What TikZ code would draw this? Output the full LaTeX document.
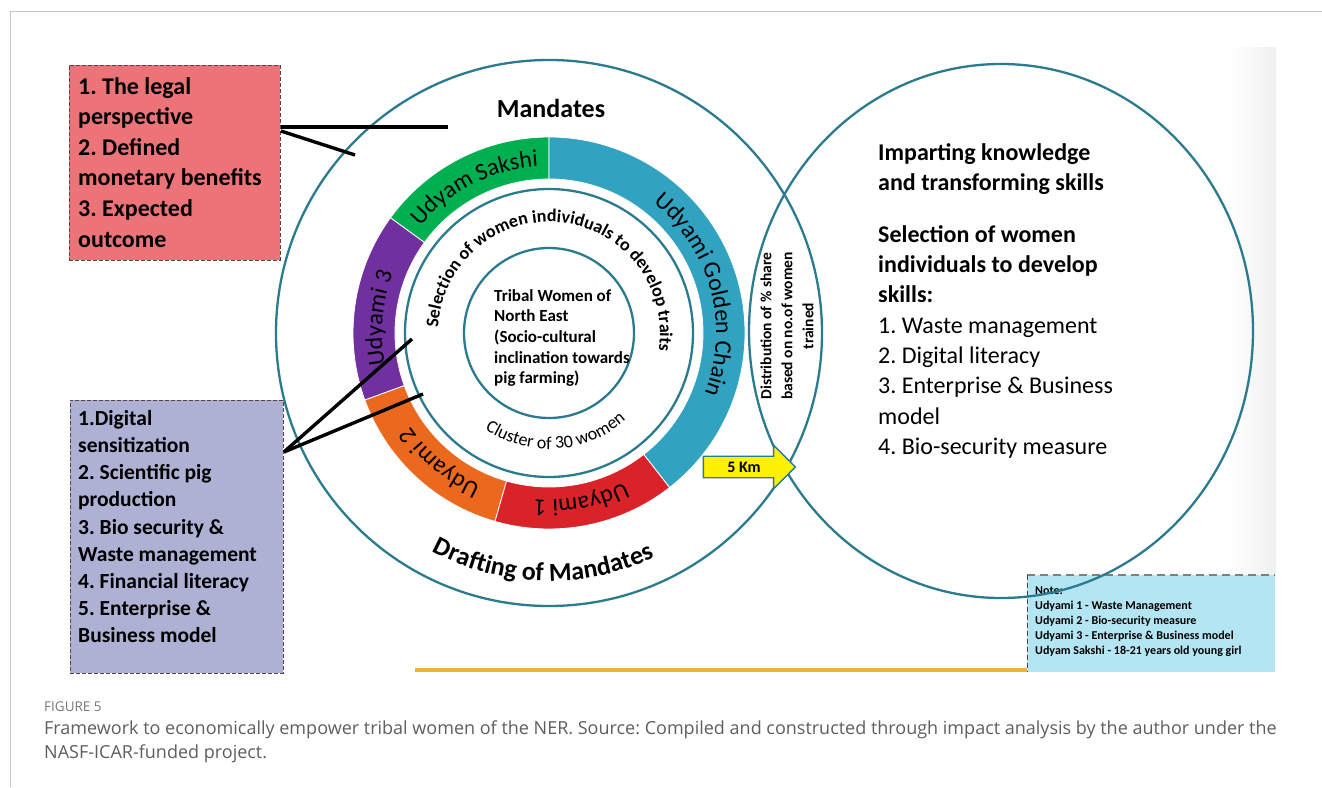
\documentclass[tikz,border=0pt]{standalone}
\usepackage{fontspec}
\setmainfont{Carlito}
\newfontfamily\capfont{Open Sans}
\usepackage{tikz}
\usetikzlibrary{shapes.arrows}
\usetikzlibrary{decorations.text}
\usetikzlibrary{positioning}
\frenchspacing

\newcommand{\fsz}[2]{\fontsize{#1}{#2}\selectfont}

\definecolor{rimteal}{HTML}{2A7B8E}
\definecolor{sakshigreen}{HTML}{00B050}
\definecolor{chainblue}{HTML}{31A3C1}
\definecolor{udythree}{HTML}{7030A0}
\definecolor{udytwo}{HTML}{EA691E}
\definecolor{udyone}{HTML}{DA2229}
\definecolor{legalpink}{HTML}{EC7479}
\definecolor{skilllilac}{HTML}{AEB1D4}
\definecolor{noteblue}{HTML}{B4E5F2}
\definecolor{dashbrown}{HTML}{5A4146}
\definecolor{goldbar}{HTML}{F0B03A}
\definecolor{capgray}{HTML}{5E5E5E}
\definecolor{framegray}{HTML}{C8C8C8}

\tikzset{
    rim/.style={draw=rimteal, line width=2.3pt},
    segline/.style={draw=white, line width=0.8pt},
    dashbox/.style={draw=dashbrown, dash pattern=on 4pt off 2pt, line width=0.9pt,
        anchor=north west, inner sep=0pt},
    boxtext/.style={anchor=north west, align=left, inner sep=0pt},
    tie/.style={draw=black, line width=3.4pt},
    ringtext/.style 2 args={decorate,
        decoration={text along path, text align=center, text={|#1|#2}}},
    caption/.style={anchor=base west, inner sep=0pt, text=capgray, font=\capfont\fsz{18}{24}},
    kmarrow/.style={single arrow, draw=rimteal, fill=yellow, line width=1.4pt,
        minimum height=92pt, inner xsep=2pt, inner ysep=4.8pt,
        single arrow head extend=11pt, font=\bfseries\fsz{16}{16}},
}

\begin{document}
\begin{tikzpicture}[x=1pt, y=1pt]
	\useasboundingbox (0,0) rectangle (1322,-787);
	\shade[left color=white, right color=black!6] (1228,-47) rectangle (1276,-575);
	\draw[framegray, line width=1pt] (10,-787) -- (10,-11) -- (1322,-11);

	% side boxes
	\node[dashbox, fill=legalpink, minimum width=211pt, minimum height=195pt] (legal) at (69,-65) {};
	\node[boxtext, font=\bfseries\fsz{24}{30.6}] (legalText) at (78,-77)
		{1. The legal\\perspective\\2. Defined\\monetary benefits\\3. Expected\\outcome};
	\node[dashbox, fill=skilllilac, minimum width=213pt, minimum height=273pt] (skills) at (70,-400) {};
	\node[boxtext, font=\bfseries\fsz{21.5}{27.2}] (skillsText) at (78,-410)
		{1.Digital\\sensitization\\2. Scientific pig\\production\\3. Bio security \&\\Waste management\\4. Financial literacy\\5. Enterprise \&\\Business model};

	% note and bar
	\node[anchor=north west, fill=noteblue, minimum width=248pt, minimum height=97pt, inner sep=0pt] (note) at (1027,-575) {};
	\draw[gray, dash pattern=on 8pt off 5pt, line width=1.2pt] (note.north west) -- (note.north east);
	\draw[dashbrown, dash pattern=on 5pt off 3pt, line width=1pt] (note.north west) -- (note.south west);
	\node[boxtext, font=\bfseries\fsz{12}{15}] (noteText) at (1035,-587)
		{Note:\\Udyami 1 - Waste Management\\Udyami 2 - Bio-security measure\\Udyami 3 - Enterprise \& Business model\\Udyam Sakshi - 18-21 years old young girl};
	\coordinate (barStart) at (415,-670);
	\draw[goldbar, line width=3.5pt] (barStart) -- (barStart -| note.west);

	% circles
	\coordinate (hub) at (549,-333);
	\draw[rim] (hub) circle[radius=273];
	\draw[rim] (1001,-331) ellipse[x radius=252, y radius=267];
	\draw[rim] (hub) circle[radius=144];
	\draw[rim] (hub) circle[radius=85];

	% coloured ring
	\foreach \from/\to/\col in {90/144/sakshigreen,144/200/udythree,200/254/udytwo,254/308/udyone,-52/90/chainblue}
		\draw[segline, fill=\col] ([shift={(\from:196)}]hub) arc[start angle=\from, end angle=\to, radius=196]
			-- ([shift={(\to:154)}]hub) arc[start angle=\to, end angle=\from, radius=154] -- cycle;

	\path[ringtext={\fsz{24}{24}}{Udyam Sakshi}] ([shift={(144:167)}]hub) arc[start angle=144, end angle=90, radius=167];
	\path[ringtext={\fsz{24}{24}}{Udyami Golden Chain}] ([shift={(84:167)}]hub) arc[start angle=84, end angle=-54, radius=167];
	\path[ringtext={\fsz{24}{24}}{Udyami 3}] ([shift={(204:167)}]hub) arc[start angle=204, end angle=146, radius=167];
	\path[ringtext={\fsz{24}{24}}{Udyami 2}] ([shift={(258:167)}]hub) arc[start angle=258, end angle=202, radius=167];
	\path[ringtext={\fsz{24}{24}}{Udyami 1}] ([shift={(308:167)}]hub) arc[start angle=308, end angle=254, radius=167];

	\path[ringtext={\bfseries\fsz{18}{18}}{Selection of women individuals to develop traits}]
		([shift={(180:111)}]hub) arc[start angle=180, end angle=-12, radius=111];
	\path[ringtext={\fsz{18}{18}}{Cluster of 30 women}]
		([shift={(225:116)}]hub) arc[start angle=225, end angle=323, radius=116];
	\path[ringtext={\bfseries\fsz{26}{26}}{Drafting of Mandates}]
		([shift={(238:248)}]hub) arc[start angle=238, end angle=299, radius=248];

	\node[font=\bfseries\fsz{26}{30}] (mandates) at (551,-108) {Mandates};
	\node[boxtext, font=\bfseries\fsz{17}{20.7}] (tribal) at (494,-289)
		{Tribal Women of\\North East\\(Socio-cultural\\inclination towards\\pig farming)};
	\node[rotate=90, align=center, inner sep=0pt, font=\bfseries\fsz{15.5}{21}] (share) at (787,-326)
		{Distribution of \% share\\based on no.of women\\trained};
	\node[boxtext, font=\fsz{24}{30.3}] (impart) at (878,-143)
		{\textbf{Imparting knowledge}\\\textbf{and transforming skills}\\[21.7pt]\textbf{Selection of women}\\\textbf{individuals to develop}\\\textbf{skills:}\\1. Waste management\\2. Digital literacy\\3. Enterprise \& Business\\model\\4. Bio-security measure};

	% ties to the boxes
	\coordinate (legalHigh) at (448,-127);
	\coordinate (legalLow) at (355,-155);
	\coordinate (skillsHigh) at (412,-339);
	\coordinate (skillsLow) at (423,-394);
	\draw[tie] ([yshift=-62pt]legal.north east) -- (legalHigh);
	\draw[tie] ([yshift=-66pt]legal.north east) -- (legalLow);
	\draw[tie] ([yshift=-52pt]skills.north east) -- (skillsHigh);
	\draw[tie] ([yshift=-52pt]skills.north east) -- (skillsLow);

	\node[kmarrow] (km) at (744,-467) {5 Km};

	% caption
	\node[anchor=base west, inner sep=0pt, text=capgray!85, font=\capfont\fsz{13.5}{16}] (figno) at (44,-711) {FIGURE 5};
	\node[caption] (capA) at (44,-734) {Framework to economically empower tribal women of the NER. Source: Compiled and constructed through impact analysis by the author under the};
	\node[caption] (capB) at (44,-758) {NASF-ICAR-funded project.};
\end{tikzpicture}
\end{document}
